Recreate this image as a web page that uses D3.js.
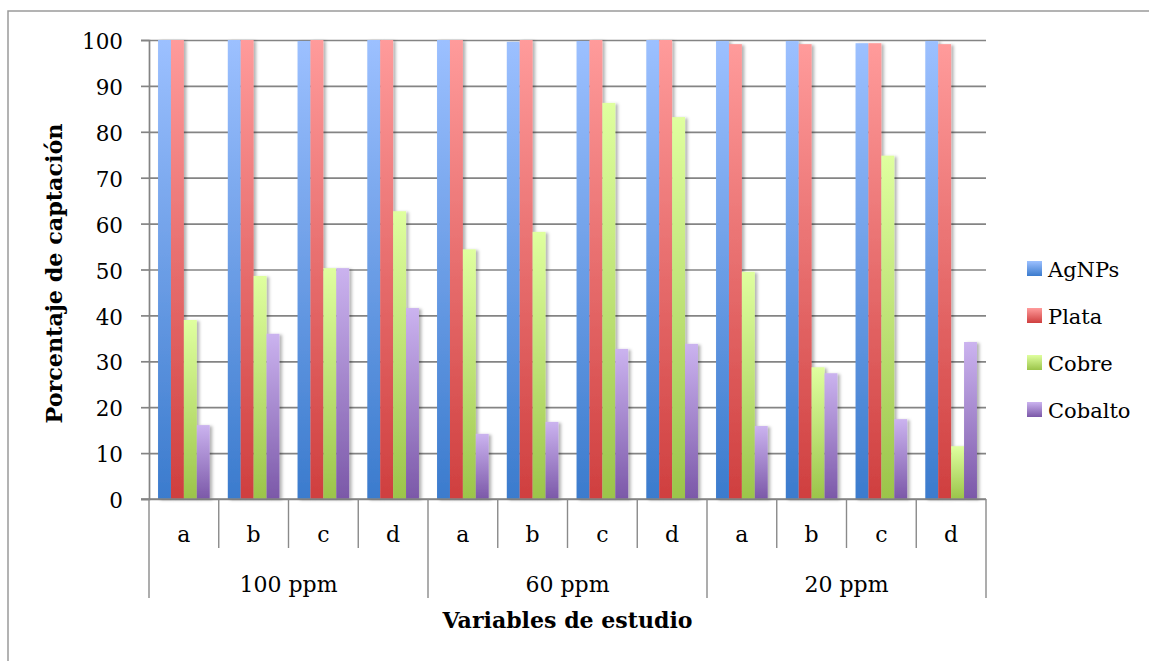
<!DOCTYPE html>
<html>
<head>
<meta charset="utf-8">
<script src="https://cdn.jsdelivr.net/npm/d3@7/dist/d3.min.js"></script>
<style>
  html, body { margin: 0; padding: 0; background: #ffffff; }
  svg { display: block; }
  text { font-family: "DejaVu Serif", "Liberation Serif", serif; fill: #000; }
</style>
</head>
<body>
<script>
// Concentration groups and study variables on the category axis
const groups = ["100 ppm", "60 ppm", "20 ppm"];
const variables = ["a", "b", "c", "d"];
const seriesNames = ["AgNPs", "Plata", "Cobre", "Cobalto"];

// Uptake percentage per series, in order a–d for 100, 60 and 20 ppm
const agnps   = [100, 100, 99.8, 100,   100, 99.6, 99.8, 100,   99.8, 99.8, 99.3, 99.8];
const plata   = [100, 100, 100, 100,    100, 100, 100, 100,     99.1, 99.1, 99.3, 99.1];
const cobre   = [39, 48.6, 50.3, 62.7,  54.4, 58.2, 86.3, 83.2, 49.5, 28.7, 74.8, 11.5];
const cobalto = [16.1, 36, 50.3, 41.6,  14.2, 16.8, 32.7, 33.8, 15.9, 27.4, 17.4, 34.2];

const yTicks = [0, 10, 20, 30, 40, 50, 60, 70, 80, 90, 100];

// Gradient colours (top, bottom) for each series
const topColors    = ["#9cc0ff", "#ff9b9b", "#dfff9f", "#cbb3ef"];
const bottomColors = ["#3b7bcd", "#cf3f3f", "#9bc44a", "#7b58a8"];

const seriesValues = [agnps, plata, cobre, cobalto];

const W = 1149, H = 661;
const plot = { left: 149, right: 986, top: 40, bottom: 499 };

const svg = d3.select("body").append("svg")
  .attr("width", W).attr("height", H);

const defs = svg.append("defs");
seriesNames.forEach((s, i) => {
  const g = defs.append("linearGradient")
    .attr("id", "grad" + i)
    .attr("x1", 0).attr("y1", 0).attr("x2", 0).attr("y2", 1);
  g.append("stop").attr("offset", "0%").attr("stop-color", topColors[i]);
  g.append("stop").attr("offset", "100%").attr("stop-color", bottomColors[i]);
});
const shadow = defs.append("filter").attr("id", "barShadow")
  .attr("x", "-30%").attr("y", "-5%").attr("width", "180%").attr("height", "110%");
shadow.append("feDropShadow")
  .attr("dx", 2.5).attr("dy", 1).attr("stdDeviation", 1.6)
  .attr("flood-color", "#000").attr("flood-opacity", 0.3);

// Outer frame (top and left edges visible)
svg.append("path")
  .attr("d", `M8,${H + 5} L8,11 L${W + 5},11`)
  .attr("fill", "none").attr("stroke", "#9a9a9a").attr("stroke-width", 1.5);

// Category keys: one per (group, variable)
const cats = [];
groups.forEach(g => variables.forEach(v => cats.push({ group: g, variable: v, key: g + "|" + v })));

const x0 = d3.scaleBand().domain(cats.map(c => c.key)).range([plot.left, plot.right]).padding(0);
const x1 = d3.scaleBand().domain(seriesNames).range([0, x0.bandwidth()]).paddingInner(0).paddingOuter(0.7);
const y = d3.scaleLinear().domain([0, 100]).range([plot.bottom, plot.top]);

// Horizontal gridlines
const grid = svg.append("g").attr("transform", `translate(${plot.left},0)`)
  .call(d3.axisLeft(y).tickValues(yTicks).tickSize(-(plot.right - plot.left)).tickFormat(""));
grid.select(".domain").remove();
grid.selectAll("line").attr("stroke", "#848484").attr("stroke-width", 1.7);

// Y axis with ticks and labels
const yAxis = svg.append("g").attr("transform", `translate(${plot.left},0)`)
  .call(d3.axisLeft(y).tickValues(yTicks).tickSize(8).tickPadding(18).tickFormat(d3.format("d")));
yAxis.select(".domain").attr("stroke", "#848484").attr("stroke-width", 1.7);
yAxis.selectAll("line").attr("stroke", "#848484").attr("stroke-width", 1.7);
yAxis.selectAll("text")
  .attr("font-size", 21.5)
  .attr("font-family", "DejaVu Serif")
  .attr("dy", "0.4em")
  .attr("fill", "#000");

// Bars
const barGroups = svg.append("g").selectAll("g")
  .data(cats).join("g")
  .attr("transform", c => `translate(${x0(c.key)},0)`);

barGroups.selectAll("rect")
  .data((c, ci) => seriesNames.map((s, si) => ({ s, si, v: seriesValues[si][ci] })))
  .join("rect")
  .attr("x", d => x1(d.s))
  .attr("width", x1.bandwidth())
  .attr("y", d => y(d.v))
  .attr("height", d => y(0) - y(d.v))
  .attr("fill", d => `url(#grad${d.si})`)
  .attr("filter", "url(#barShadow)");

// Category axis line
svg.append("line")
  .attr("x1", plot.left - 8).attr("x2", plot.right)
  .attr("y1", plot.bottom).attr("y2", plot.bottom)
  .attr("stroke", "#848484").attr("stroke-width", 1.7);

// Dividers between variables (short) and between groups (long)
const boundaries = cats.map((c, i) => ({ x: x0(c.key), groupEdge: i % variables.length === 0 }))
  .concat([{ x: plot.right, groupEdge: true }]);
svg.append("g").selectAll("line")
  .data(boundaries).join("line")
  .attr("x1", d => d.x).attr("x2", d => d.x)
  .attr("y1", plot.bottom)
  .attr("y2", d => d.groupEdge ? 598 : 548)
  .attr("stroke", "#8a8a8a").attr("stroke-width", 1.4);

// Variable labels
svg.append("g").selectAll("text")
  .data(cats).join("text")
  .attr("x", c => x0(c.key) + x0.bandwidth() / 2)
  .attr("y", 542)
  .attr("text-anchor", "middle")
  .attr("font-size", 22)
  .text(c => c.variable);

// Group labels
svg.append("g").selectAll("text")
  .data(groups).join("text")
  .attr("x", g => {
    const first = x0(g + "|" + variables[0]);
    const last = x0(g + "|" + variables[variables.length - 1]) + x0.bandwidth();
    return (first + last) / 2;
  })
  .attr("y", 592)
  .attr("text-anchor", "middle")
  .attr("font-size", 22)
  .text(g => g);

// Axis titles
svg.append("text")
  .attr("x", (plot.left + plot.right) / 2)
  .attr("y", 628)
  .attr("text-anchor", "middle")
  .attr("font-size", 22)
  .attr("font-weight", "bold")
  .attr("textLength", 250)
  .attr("lengthAdjust", "spacingAndGlyphs")
  .text("Variables de estudio");

svg.append("text")
  .attr("transform", `translate(62,${(plot.top + plot.bottom) / 2 + 4}) rotate(-90)`)
  .attr("text-anchor", "middle")
  .attr("font-size", 22)
  .attr("font-weight", "bold")
  .attr("textLength", 300)
  .attr("lengthAdjust", "spacingAndGlyphs")
  .text("Porcentaje de captación");

// Legend
const legend = svg.append("g").selectAll("g")
  .data(seriesNames).join("g")
  .attr("transform", (s, i) => `translate(1027,${261 + i * 47})`);
legend.append("rect")
  .attr("width", 15).attr("height", 15)
  .attr("fill", (s, i) => `url(#grad${i})`);
legend.append("text")
  .attr("x", 21).attr("y", 16)
  .attr("font-size", 21)
  .text(s => s);
</script>
</body>
</html>
